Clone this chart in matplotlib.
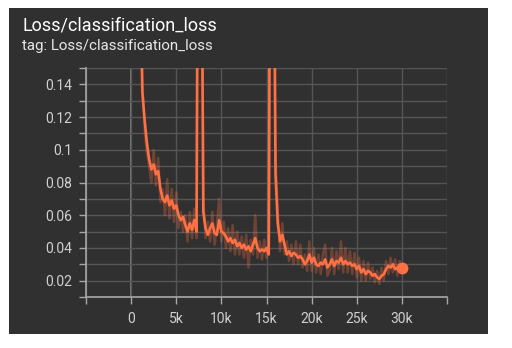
import numpy as np
import matplotlib
matplotlib.use("Agg")
import matplotlib.pyplot as plt
from matplotlib.patches import Rectangle

plt.rcParams['font.family'] = ['Roboto', 'DejaVu Sans']

# training steps (every 250) and loss values
steps = np.arange(1000, 30001, 250)

smoothed = [
    0.20, 0.135, 0.118, 0.104,
    0.094, 0.088, 0.091, 0.085,
    0.087, 0.076, 0.070, 0.068,
    0.072, 0.066, 0.069, 0.064,
    0.066, 0.060, 0.057, 0.059,
    0.054, 0.050, 0.055, 0.051,
    0.057, 0.050, 0.40, 0.30,
    0.062, 0.052, 0.048, 0.052,
    0.055, 0.049, 0.048, 0.057,
    0.050, 0.049, 0.047, 0.044,
    0.046, 0.043, 0.045, 0.041,
    0.043, 0.040, 0.042, 0.039,
    0.041, 0.038, 0.042, 0.046,
    0.040, 0.038, 0.039, 0.038,
    0.040, 0.036, 0.40, 0.30,
    0.085, 0.055, 0.044, 0.048,
    0.042, 0.036, 0.038, 0.035,
    0.037, 0.036, 0.034, 0.035,
    0.033, 0.030, 0.032, 0.036,
    0.031, 0.034, 0.030, 0.029,
    0.031, 0.030, 0.033, 0.028,
    0.030, 0.033, 0.029, 0.032,
    0.031, 0.034, 0.030, 0.032,
    0.030, 0.031, 0.029, 0.030,
    0.027, 0.029, 0.025, 0.027,
    0.024, 0.026, 0.025, 0.023,
    0.024, 0.022, 0.021, 0.023,
    0.024, 0.027, 0.029, 0.028,
    0.030, 0.027, 0.028, 0.027,
    0.028,
]

raw = [
    0.22, 0.14, 0.112, 0.098,
    0.090, 0.080, 0.100, 0.078,
    0.095, 0.068, 0.076, 0.060,
    0.082, 0.058, 0.076, 0.056,
    0.074, 0.052, 0.062, 0.050,
    0.060, 0.044, 0.062, 0.046,
    0.064, 0.046, 0.45, 0.32,
    0.070, 0.046, 0.056, 0.044,
    0.062, 0.042, 0.054, 0.070,
    0.044, 0.056, 0.040, 0.052,
    0.038, 0.054, 0.036, 0.050,
    0.036, 0.047, 0.034, 0.048,
    0.028, 0.045, 0.036, 0.060,
    0.034, 0.044, 0.033, 0.045,
    0.034, 0.042, 0.46, 0.34,
    0.095, 0.062, 0.038, 0.055,
    0.036, 0.044, 0.032, 0.042,
    0.030, 0.044, 0.030, 0.042,
    0.028, 0.036, 0.026, 0.044,
    0.026, 0.040, 0.025, 0.036,
    0.024, 0.036, 0.042, 0.023,
    0.026, 0.040, 0.024, 0.038,
    0.027, 0.044, 0.025, 0.040,
    0.025, 0.038, 0.024, 0.037,
    0.022, 0.034, 0.020, 0.032,
    0.020, 0.031, 0.021, 0.028,
    0.019, 0.026, 0.018, 0.028,
    0.020, 0.032, 0.024, 0.034,
    0.025, 0.033, 0.023, 0.032,
    0.026,
]

x_ticks = [-5000, 0, 5000, 10000, 15000, 20000, 25000, 30000, 35000]
x_labels = ['', '0', '5k', '10k', '15k', '20k', '25k', '30k', '']
y_ticks = [0.02, 0.04, 0.06, 0.08, 0.10, 0.12, 0.14]
y_labels = ['0.02', '0.04', '0.06', '0.08', '0.1', '0.12', '0.14']

bg = '#303030'
orange = '#ff7043'
grid_c = '#555555'
axis_c = '#a8a8a8'
text_c = '#d0d0d0'

fig = plt.figure(figsize=(5.12, 3.48), dpi=100, facecolor='white')
# dark card behind the chart
fig.patches.append(Rectangle((9 / 512, 14 / 348), 479 / 512, 326 / 348,
                             transform=fig.transFigure, facecolor=bg,
                             edgecolor='none', zorder=-10))

ax = fig.add_axes([86 / 512, 51 / 348, 361 / 512, 229 / 348])
ax.set_facecolor(bg)

ax.plot(steps, raw, color=orange, lw=1.8, alpha=0.3, zorder=3)
ax.plot(steps, smoothed, color=orange, lw=1.9, zorder=4)
ax.plot(steps[-1], smoothed[-1], 'o', color=orange, ms=7.5, zorder=5)

ax.set_xlim(-5000, 35000)
ax.set_ylim(0.01, 0.15)

ax.set_xticks(x_ticks)
ax.set_xticklabels(x_labels)
ax.set_yticks(y_ticks)
ax.set_yticklabels(y_labels)
ax.set_yticks(np.arange(0.01, 0.151, 0.02), minor=True)

ax.grid(True, which='both', color=grid_c, lw=1.0, zorder=0)
ax.axvline(0, color='#8a8a8a', lw=1.2, zorder=1)

for side in ['top', 'right']:
    ax.spines[side].set_visible(False)
for side in ['left', 'bottom']:
    ax.spines[side].set_color(axis_c)
    ax.spines[side].set_linewidth(1.2)

ax.tick_params(which='both', colors=axis_c, length=5, width=1.0,
               labelcolor=text_c, labelsize=10)
ax.tick_params(axis='y', pad=5)
ax.tick_params(axis='x', pad=6)

fig.text(22 / 512, 1 - 26 / 348, 'Loss/classification_loss', color='white',
         fontsize=13, va='center', ha='left')
fig.text(22 / 512, 1 - 46 / 348, 'tag: Loss/classification_loss', color='#e8e8e8',
         fontsize=10.8, va='center', ha='left')

fig.savefig('out.png', dpi=100, facecolor='white')
